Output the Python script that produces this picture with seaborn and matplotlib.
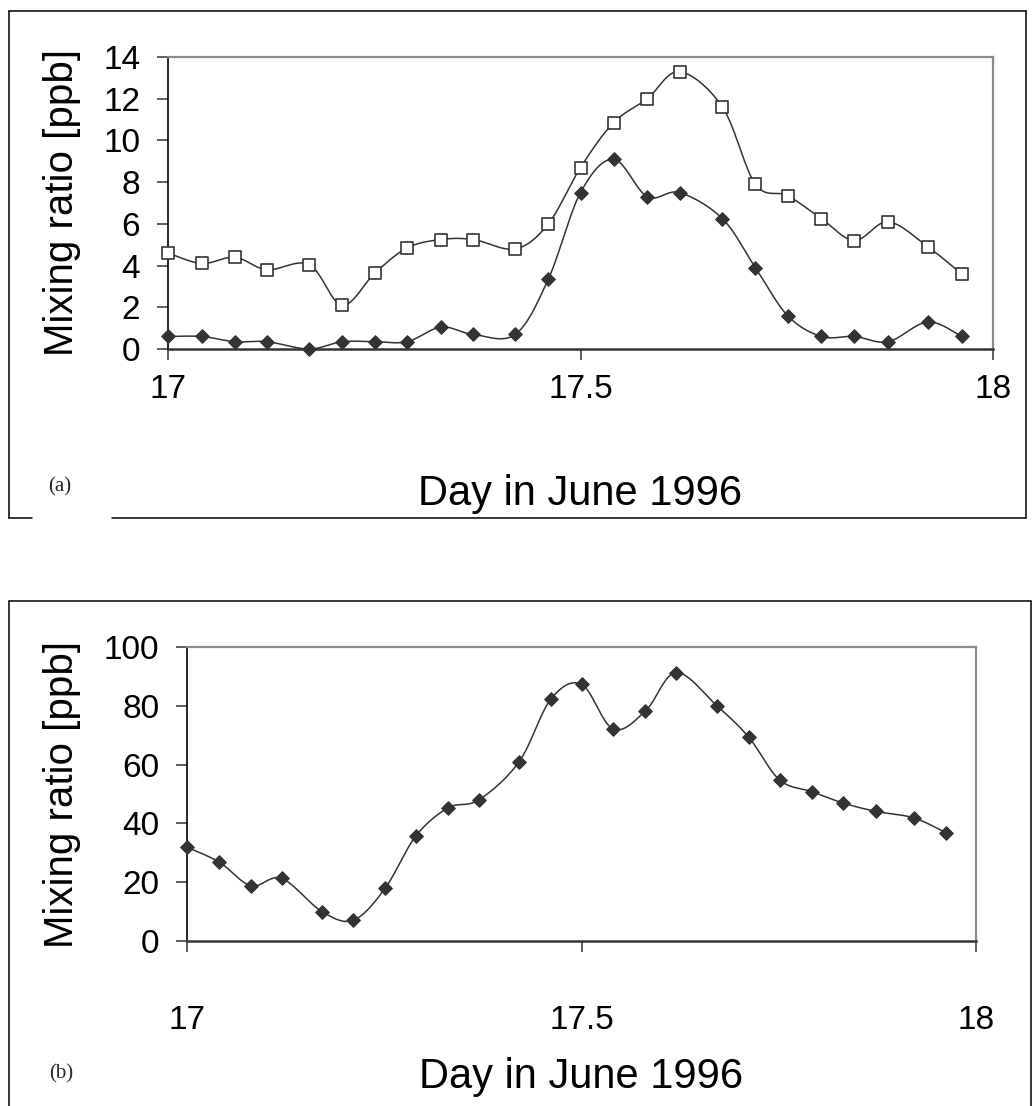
import numpy as np
import matplotlib
matplotlib.use("Agg")
import matplotlib.pyplot as plt
from matplotlib.lines import Line2D
import seaborn as sns

# ---------------- data ----------------
day = [17.000, 17.041, 17.081, 17.120, 17.171, 17.211, 17.251, 17.290,
       17.331, 17.370, 17.421, 17.461, 17.500, 17.540, 17.581, 17.620,
       17.672, 17.712, 17.751, 17.792, 17.832, 17.873, 17.921, 17.962]
a_open = [4.6, 4.1, 4.4, 3.8, 4.05, 2.1, 3.65, 4.85, 5.25, 5.25, 4.8, 6.0,
          8.7, 10.85, 12.0, 13.3, 11.6, 7.9, 7.35, 6.25, 5.2, 6.1, 4.9, 3.6]
a_filled = [0.6, 0.6, 0.35, 0.35, 0.0, 0.35, 0.35, 0.35, 1.05, 0.7, 0.7, 3.35,
            7.5, 9.1, 7.3, 7.5, 6.25, 3.9, 1.6, 0.6, 0.6, 0.35, 1.3, 0.6]
b_filled = [31.9, 26.8, 18.8, 21.3, 10.0, 7.1, 17.9, 35.7, 45.3, 48.0, 61.0, 82.2,
            87.3, 72.1, 78.2, 91.3, 79.9, 69.3, 54.8, 50.8, 46.9, 44.1, 41.9, 36.8]
x_ticks = [17, 17.5, 18]
x_ticklabels = ["17", "17.5", "18"]
a_yticks = [0, 2, 4, 6, 8, 10, 12, 14]
b_yticks = [0, 20, 40, 60, 80, 100]
xlabel = "Day in June 1996"
ylabel = "Mixing ratio [ppb]"

# ---------------- style ----------------
sns.set_theme(style="white")
plt.rcParams['font.family'] = ['Liberation Sans', 'DejaVu Sans']

W, H = 1034, 1106
fig = plt.figure(figsize=(W / 100, H / 100), dpi=100)
fig.patch.set_facecolor("white")

DARK = "#333333"


def smooth(x, y, n=24):
    """Excel-style smoothed line (Bezier through points, 1/6 tension)."""
    P = np.column_stack([np.asarray(x, float), np.asarray(y, float)])
    ext = np.vstack([P[0], P, P[-1]])
    out = []
    for i in range(len(P) - 1):
        p0, p1, p2, p3 = ext[i], ext[i + 1], ext[i + 2], ext[i + 3]
        c1 = p1 + (p2 - p0) / 6.0
        c2 = p2 - (p3 - p1) / 6.0
        t = np.linspace(0, 1, n, endpoint=(i == len(P) - 2))[:, None]
        seg = (1 - t) ** 3 * p1 + 3 * (1 - t) ** 2 * t * c1 + 3 * (1 - t) * t ** 2 * c2 + t ** 3 * p2
        out.append(seg)
    return np.vstack(out)


def px_axes(left, top, right, bottom):
    return fig.add_axes([left / W, 1 - bottom / H, (right - left) / W, (bottom - top) / H])


def style_axes(ax, ylim, yticks, ylabel_x, xlabel_y, xpad):
    ax.set_xlim(17, 18)
    ax.set_ylim(*ylim)
    ax.set_xticks(x_ticks)
    ax.set_xticklabels(x_ticklabels)
    ax.set_yticks(yticks)
    ax.set_yticklabels([str(v) for v in yticks])
    for s in ("top", "right"):
        ax.spines[s].set_color("#8a8a8a")
        ax.spines[s].set_linewidth(1.6)
    ax.spines["left"].set_color("black")
    ax.spines["left"].set_linewidth(1.2)
    ax.spines["bottom"].set_color(DARK)
    ax.spines["bottom"].set_linewidth(1.8)
    ax.tick_params(axis="y", direction="out", length=8, width=1.1, color=DARK,
                   pad=12, labelsize=24, labelcolor="black", left=True)
    ax.tick_params(axis="x", direction="out", length=8, width=1.1, color=DARK,
                   pad=xpad, labelsize=24, labelcolor="black", bottom=True)
    ax.set_xlabel(xlabel, fontsize=30, color="black")
    ax.set_ylabel(ylabel, fontsize=29, color="black")
    ax.xaxis.label.set_va("center")
    ax.yaxis.label.set_va("center")
    ax.xaxis.set_label_coords(0.5, xlabel_y)
    ax.yaxis.set_label_coords(ylabel_x, 0.5)
    ax.grid(False)


def draw_series(ax, x, y, marker):
    curve = smooth(x, y)
    sns.lineplot(x=curve[:, 0], y=curve[:, 1], ax=ax, color=DARK, linewidth=1.1,
                 sort=False, estimator=None, legend=False)
    if marker == "s":
        sns.scatterplot(x=x, y=y, ax=ax, marker="s", s=72, color="white",
                        edgecolor=DARK, linewidth=1.2, legend=False, clip_on=False, zorder=5)
    else:
        sns.scatterplot(x=x, y=y, ax=ax, marker="D", s=48, color=DARK,
                        edgecolor=DARK, linewidth=0.8, legend=False, clip_on=False, zorder=5)


# ---------------- panel (a) ----------------
axa = px_axes(168, 57, 993, 349)
draw_series(axa, day, a_open, "s")
draw_series(axa, day, a_filled, "D")
style_axes(axa, (0, 14), a_yticks, ylabel_x=-0.128, xlabel_y=-0.497, xpad=10)

# ---------------- panel (b) ----------------
axb = px_axes(187, 647, 976, 941)
draw_series(axb, day, b_filled, "D")
style_axes(axb, (0, 100), b_yticks, ylabel_x=-0.158, xlabel_y=-0.463, xpad=38)


# ---------------- frames and panel letters ----------------
def fline(x1, y1, x2, y2):
    fig.add_artist(Line2D([x1 / W, x2 / W], [1 - y1 / H, 1 - y2 / H],
                          color="black", linewidth=1.1))


# frame (a): bottom edge has a gap where the letter sits
fline(9, 11, 1026, 11)
fline(9, 11, 9, 518)
fline(1026, 11, 1026, 518)
fline(9, 518, 32, 518)
fline(112, 518, 1026, 518)
# frame (b): open at the bottom (cut by image edge)
fline(9, 601, 1031, 601)
fline(9, 601, 9, 1110)
fline(1031, 601, 1031, 1110)

fig.text(60 / W, 1 - 487 / H, "(a)", family=["Liberation Serif", "DejaVu Serif"],
         fontsize=15, ha="center", va="center")
fig.text(61 / W, 1 - 1074 / H, "(b)", family=["Liberation Serif", "DejaVu Serif"],
         fontsize=15, ha="center", va="center")

fig.savefig("out.png", dpi=100, facecolor="white")
